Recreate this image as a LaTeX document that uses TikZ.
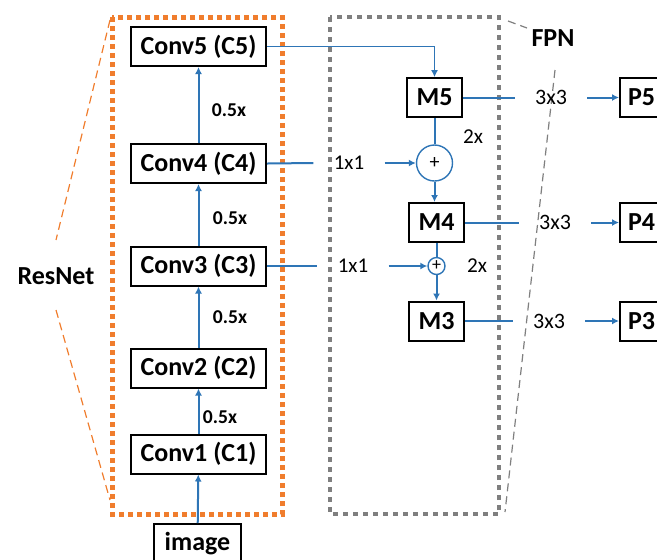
\documentclass[tikz,border=0pt]{standalone}
\usepackage{fontspec}
\setmainfont{Carlito}
\usetikzlibrary{arrows.meta}
\definecolor{netblue}{RGB}{46,117,182}
\definecolor{resorange}{RGB}{240,125,45}
\definecolor{fpngray}{RGB}{127,127,127}

\begin{document}
\begin{tikzpicture}[x=0.5pt,y=-0.5pt,
	blk/.style={draw,line width=1pt,inner sep=0pt,minimum height=19.5pt,font=\fontsize{13}{15}\selectfont\bfseries},
	convblk/.style={blk,minimum width=67.5pt},
	mblk/.style={blk,minimum width=27.5pt},
	addop/.style={circle,draw=netblue,line width=0.7pt,inner sep=0pt},
	conn/.style={draw=netblue,line width=1pt,-{Latex[length=3.5pt,width=3.5pt]}},
	plain/.style={draw=netblue,line width=1pt},
	gaplbl/.style={inner xsep=10pt,inner ysep=0pt},
	ratio/.style={font=\fontsize{9.8}{11}\selectfont\bfseries},
	tag/.style={font=\fontsize{13}{15}\selectfont\bfseries}]
	
	\useasboundingbox (0,0) rectangle (657,559);
	\clip (0,0) rectangle (657,559);
	
	\draw[resorange,line width=2.5pt,dash pattern=on 2.5pt off 2pt] (112,17) rectangle (282,514);
	\draw[fpngray,line width=2pt,dash pattern=on 2.5pt off 2.5pt] (330,17) rectangle (499,514);
	
	\node[tag] (resnet) at (56,276) {ResNet};
	\node[tag] (fpn) at (553,38) {FPN};
	\draw[resorange,line width=0.6pt,dash pattern=on 4pt off 2.5pt] (110,20) -- (56,240);
	\draw[resorange,line width=0.6pt,dash pattern=on 4pt off 2.5pt] (56,310) -- (110,500);
	\draw[fpngray,line width=0.6pt,dash pattern=on 4pt off 2.5pt] (508,21) -- (527,28);
	\draw[fpngray,line width=0.6pt,dash pattern=on 4pt off 2.5pt] (555,70) -- (505,512);
	
	\node[convblk] (c5) at (198.5,46.5) {Conv5 (C5)};
	\node[convblk] (c4) at (198.5,163.5) {Conv4 (C4)};
	\node[convblk] (c3) at (198.5,266) {Conv3 (C3)};
	\node[convblk] (c2) at (198.5,368) {Conv2 (C2)};
	\node[convblk] (c1) at (198.5,454) {Conv1 (C1)};
	\node[blk,minimum width=43.5pt] (img) at (197.5,543.5) {image};
	
	\draw[conn] (img) -- (c1);
	\draw[conn] (c1) -- (c2);
	\draw[conn] (c2) -- (c3);
	\draw[conn] (c3) -- (c4);
	\draw[conn] (c4) -- (c5);
	
	\node[ratio] at (220,417) {0.5x};
	\node[ratio] at (230,317) {0.5x};
	\node[ratio] at (230,218) {0.5x};
	\node[ratio] at (229,110) {0.5x};
	
	\node[mblk] (m5) at (434.5,97.5) {M5};
	\node[mblk] (m4) at (436.5,222.5) {M4};
	\node[mblk] (m3) at (436.5,321) {M3};
	\node[addop,minimum size=18pt,font=\fontsize{10}{12}\selectfont] (add4) at (434.5,163) {+};
	\node[addop,minimum size=8.5pt,font=\fontsize{9}{10}\selectfont] (add3) at (436.5,266) {+};
	
	\node[gaplbl,font=\fontsize{10.5}{12}\selectfont] (k4) at (349,163) {1x1};
	\node[gaplbl,font=\fontsize{10.5}{12}\selectfont] (k3) at (353,266) {1x1};
	
	\draw[conn,line width=0.5pt] (c5.east) -| (m5.north);
	\draw[plain] (c4.east) -- (k4.west);
	\draw[conn] (k4.east) -- (add4.west);
	\draw[plain] (c3.east) -- (k3.west);
	\draw[conn] (k3.east) -- (add3.west);
	\draw[plain] (m5.south -| add4) -- (add4.north);
	\draw[conn] (add4.south) -- (add4.south |- m4.north);
	\draw[plain] (m4.south -| add3) -- (add3.north);
	\draw[conn] (add3) -- (m3);
	
	\node[font=\fontsize{10.6}{12}\selectfont] at (473,137) {2x};
	\node[font=\fontsize{10.6}{12}\selectfont] at (477,266) {2x};
	
	\node[mblk,minimum width=21.5pt] (p5) at (641.5,97.5) {P5};
	\node[mblk,minimum width=21.5pt] (p4) at (641.5,222.5) {P4};
	\node[mblk,minimum width=21.5pt] (p3) at (641.5,321) {P3};
	
	\node[gaplbl,font=\fontsize{11}{13}\selectfont] (t5) at (551,97.5) {3x3};
	\node[gaplbl,font=\fontsize{11}{13}\selectfont] (t4) at (555,222.5) {3x3};
	\node[gaplbl,font=\fontsize{11}{13}\selectfont] (t3) at (549,321) {3x3};
	
	\draw[plain] (m5) -- (t5);
	\draw[conn] (t5) -- (p5);
	\draw[plain] (m4) -- (t4);
	\draw[conn] (t4) -- (p4);
	\draw[plain] (m3) -- (t3);
	\draw[conn] (t3) -- (p3);
\end{tikzpicture}
\end{document}
